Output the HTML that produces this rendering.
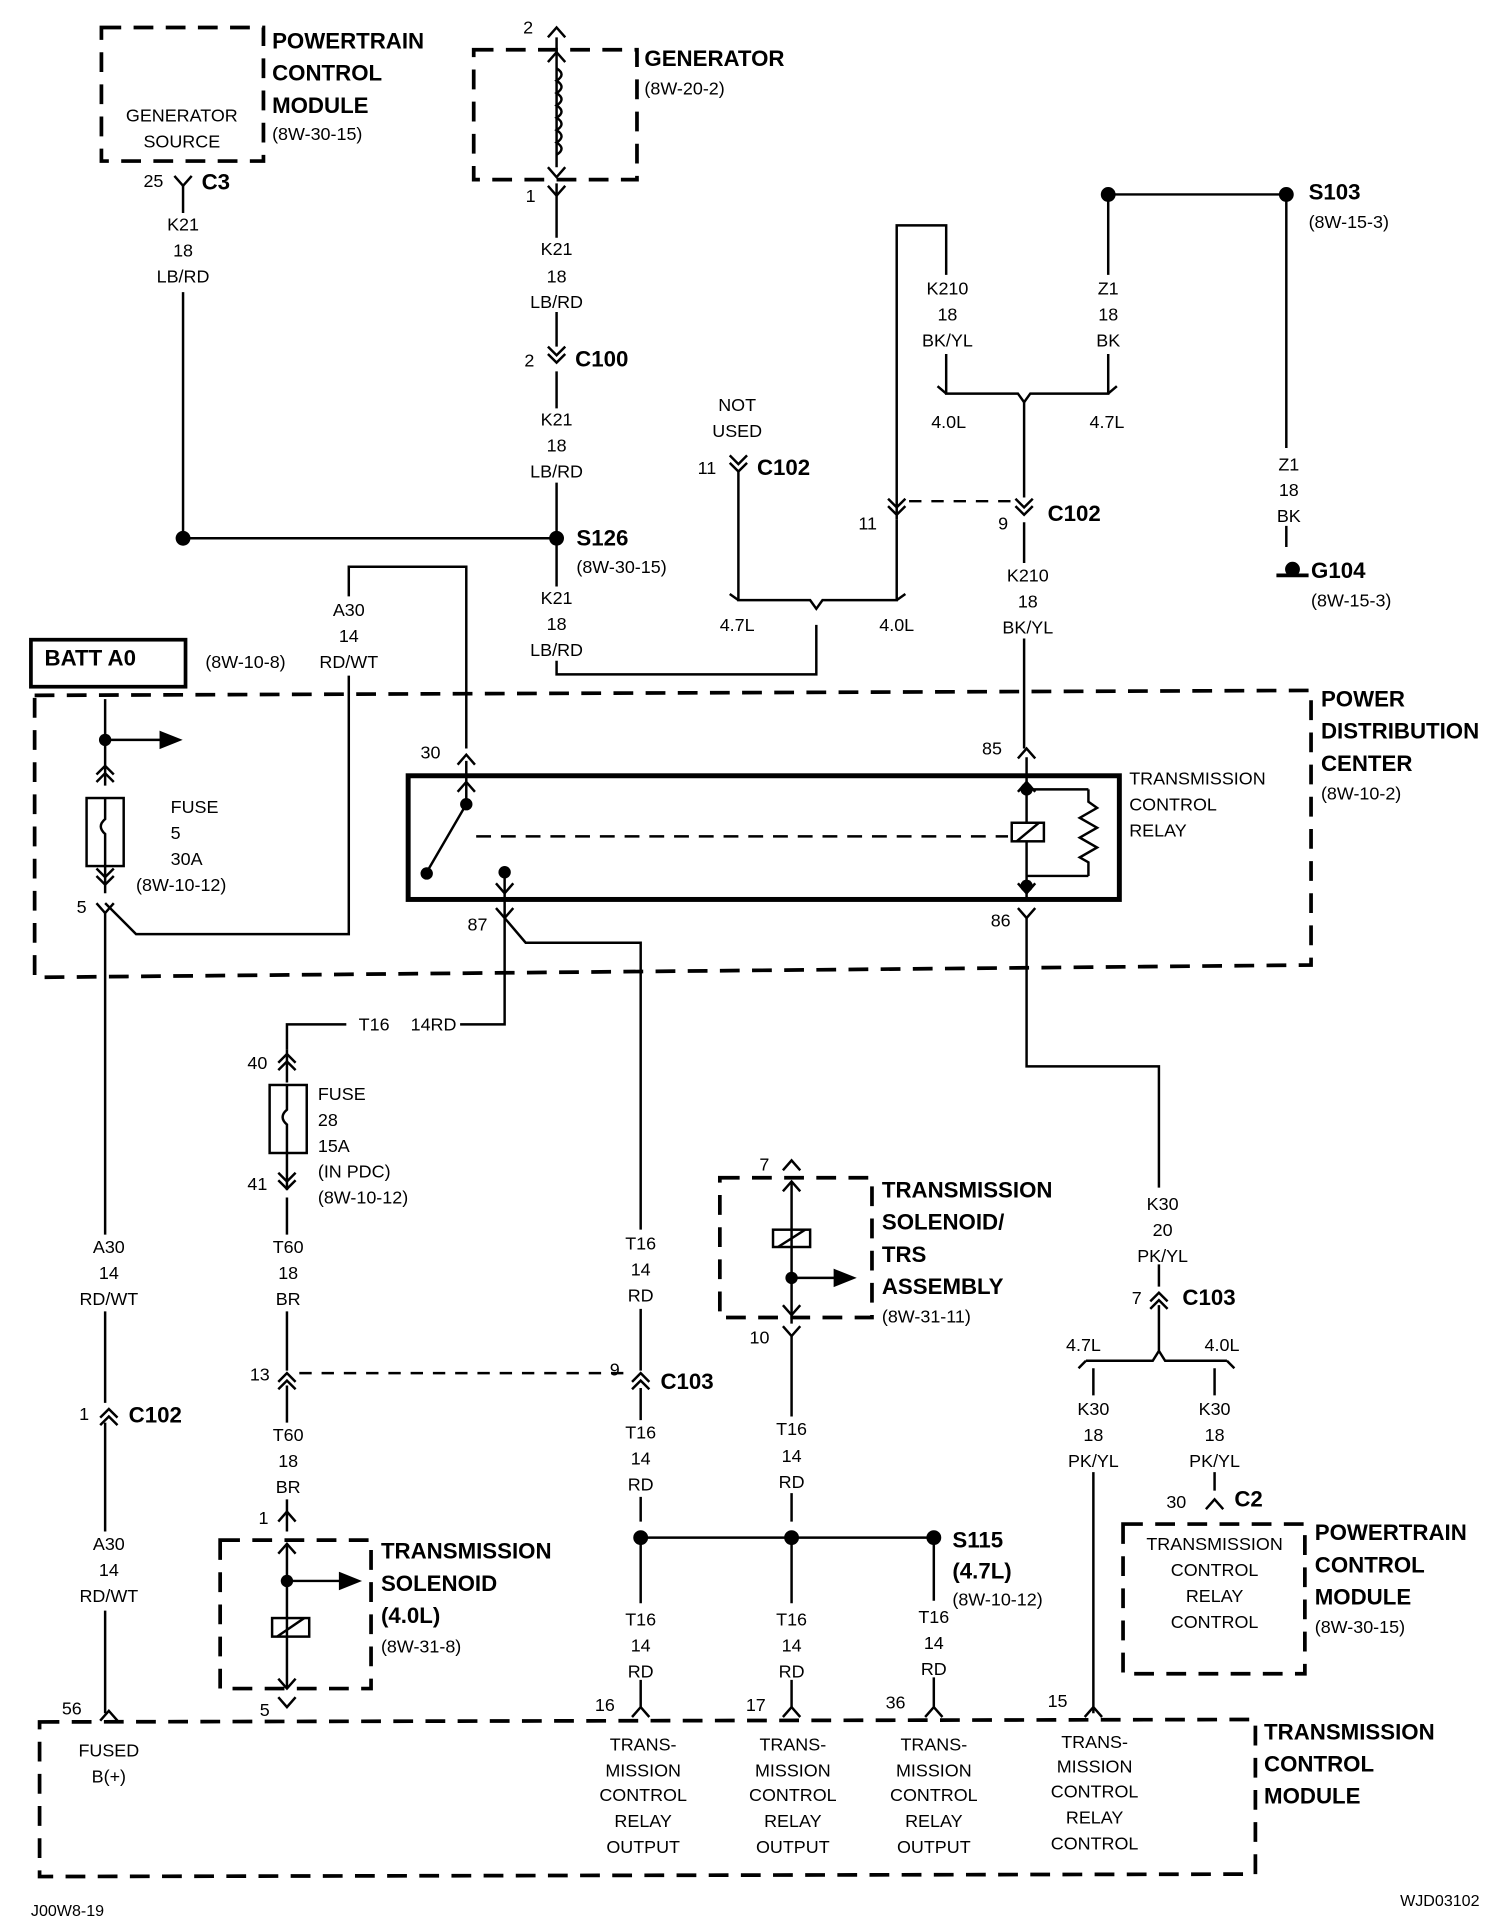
<!DOCTYPE html>
<html><head><meta charset="utf-8"><style>
html,body{margin:0;padding:0;background:#fff}
svg{display:block}
text{font-family:"Liberation Sans",sans-serif;fill:#000}
.n{font-size:14.5px;text-anchor:middle}
.l{font-size:14.5px}
.b{font-size:18px;font-weight:bold}
</style></head><body>
<svg width="1504" height="1930" viewBox="0 0 1216 1560" xmlns="http://www.w3.org/2000/svg">
<defs>
<path id="v" d="M-7,-8 L0,0 L7,-8" fill="none" stroke="#000" stroke-width="2"/>
<path id="u" d="M-7,8 L0,0 L7,8" fill="none" stroke="#000" stroke-width="2"/>
<path id="vv" d="M-7,-10 L0,-3 L7,-10 M-7,-4 L0,3 L7,-4" fill="none" stroke="#000" stroke-width="2"/>
<path id="uu" d="M-7,10 L0,3 L7,10 M-7,4 L0,-3 L7,4" fill="none" stroke="#000" stroke-width="2"/>
</defs>
<g stroke="#000" stroke-width="2" fill="none">
<g stroke-width="3" stroke-dasharray="16,10">
<rect x="82" y="22" width="131" height="108"/>
<rect x="383" y="40" width="132" height="105"/>
<path d="M28,562 L1060,558 L1060,780 L28,790 Z"/>
<rect x="178" y="1245" width="122" height="120"/>
<rect x="582" y="952" width="123" height="113"/>
<rect x="908" y="1232" width="147" height="121"/>
<path d="M32,1392 L1015,1390 L1015,1515 L32,1517 Z"/>
</g>
<rect x="25" y="517" width="125" height="38" stroke-width="3"/>
<rect x="330" y="627" width="575" height="100" stroke-width="4"/>
<path d="M148,150 V172 M148,236 V435 H450"/>
<use href="#v" x="148" y="150"/>
<path d="M450,30 V135 M450,148 V192 M450,252 V280 M450,300 V330 M450,390 V474 M450,534 V545 H660 V505"/>
<path d="M450,55 q8,5 0,10 q8,5 0,10 q8,5 0,10 q8,5 0,10 q8,5 0,10 q8,5 0,10 q8,5 0,10"/>
<use href="#u" x="450" y="22"/><use href="#u" x="450" y="42"/>
<use href="#v" x="450" y="143"/><use href="#v" x="450" y="158"/>
<use href="#vv" x="450" y="290"/>
<use href="#vv" x="597" y="378"/>
<path d="M597,380 V485 H655 L660,492 L665,485 H725 V420"/>
<path d="M590,480 L597,485 M732,480 L725,485"/>
<path d="M725,420 V182 H765 V222 M765,286 V318 H823 L828,325 L833,318 H896 V286 M896,222 V157 H1040 V362 M1040,425 V442"/>
<path d="M758,312 L765,318 M903,312 L896,318"/>
<use href="#vv" x="725" y="413"/>
<path d="M735,405 H818" stroke-dasharray="10,8"/>
<path d="M828,325 V402 M828,422 V455 M828,516 V605"/>
<use href="#vv" x="828" y="413"/>
<path d="M1032,465 H1058" stroke-width="3"/>
<path d="M377,605 V458 H282 V482 M282,546 V755 H110 L85,730"/>
<use href="#u" x="377" y="610"/>
<path d="M85,565 V635 M85,598 H130"/>
<path d="M130,592 L145,598 L130,604 Z" fill="#000"/>
<rect x="70" y="645" width="30" height="55"/>
<path d="M85,645 V662 q-7,6 0,12 V700"/>
<path d="M85,700 V722"/>
<use href="#uu" x="85" y="622"/><use href="#vv" x="85" y="712"/>
<use href="#v" x="85" y="738"/>
<path d="M85,738 V998 M85,1060 V1134 M85,1150 V1238 M85,1302 V1385"/>
<use href="#uu" x="88" y="1142"/>
<use href="#u" x="88" y="1383"/>
<path d="M377,615 V650 L345,705"/>
<path d="M385,676 H815" stroke-dasharray="12,8"/>
<path d="M408,705 V742 M408,742 L425,762 H518 V994 M518,1058 V1108 M518,1122 V1148 M518,1210 V1230"/>
<path d="M408,742 V828 H372 M280,828 H232 V848"/>
<path d="M830,612 V665 M830,680 V728 M830,638 H880 M830,708 H880"/>
<path d="M880,638 V648 l7,5 l-14,8 l14,8 l-14,8 l14,8 l-14,8 l7,4 V708"/>
<rect x="818" y="665" width="26" height="15"/>
<path d="M822,680 L840,665"/>
<use href="#u" x="830" y="632"/><use href="#v" x="830" y="722"/>
<use href="#u" x="377" y="632"/><use href="#v" x="408" y="722"/>
<use href="#v" x="408" y="742"/><use href="#v" x="830" y="742"/>
<use href="#u" x="830" y="605"/>
<path d="M830,742 V862 H937 V960 M937,1022 V1040 M937,1055 V1092 L932,1100 H878 M937,1092 L942,1100 H992"/>
<path d="M872,1106 L878,1100 M998,1106 L992,1100"/>
<path d="M884,1106 V1128 M884,1190 V1385 M982,1106 V1128 M982,1190 V1205"/>
<use href="#uu" x="937" y="1048"/>
<use href="#u" x="982" y="1212"/>
<path d="M232,848 V875 M232,932 V962 M232,968 V998 M232,1060 V1108 M232,1120 V1150 M232,1212 V1238 M232,1248 V1365 M232,1278 H275"/>
<path d="M275,1272 L290,1278 L275,1284 Z" fill="#000"/>
<use href="#uu" x="232" y="855"/>
<rect x="218" y="877" width="30" height="55"/>
<path d="M232,877 V897 q-7,6 0,12 V932"/>
<use href="#vv" x="232" y="958"/>
<use href="#uu" x="232" y="1113"/><use href="#uu" x="518" y="1113"/>
<path d="M242,1110 H508" stroke-dasharray="10,8"/>
<use href="#u" x="232" y="1222"/><use href="#u" x="232" y="1248"/>
<use href="#v" x="232" y="1365"/><use href="#v" x="232" y="1380"/>
<rect x="220" y="1308" width="30" height="15"/>
<path d="M224,1323 L246,1308"/>
<use href="#u" x="640" y="938"/><use href="#u" x="640" y="955"/>
<path d="M640,955 V1070 M640,1033 H675"/>
<path d="M675,1027 L690,1033 L675,1039 Z" fill="#000"/>
<rect x="625" y="994" width="30" height="14"/>
<path d="M629,1008 L651,994"/>
<use href="#v" x="640" y="1063"/><use href="#v" x="640" y="1080"/>
<path d="M640,1080 V1145 M640,1207 V1230"/>
<path d="M518,1243 H755 M518,1243 V1296 M518,1358 V1380 M640,1243 V1296 M640,1358 V1380 M755,1243 V1294 M755,1356 V1380"/>
<use href="#u" x="518" y="1380"/><use href="#u" x="640" y="1380"/><use href="#u" x="755" y="1380"/><use href="#u" x="884" y="1380"/>
</g>
<g fill="#000">
<circle cx="148" cy="435" r="6"/><circle cx="450" cy="435" r="6"/>
<circle cx="896" cy="157" r="6"/><circle cx="1040" cy="157" r="6"/>
<circle cx="1045" cy="460" r="6"/>
<circle cx="85" cy="598" r="5"/>
<circle cx="377" cy="650" r="5"/><circle cx="345" cy="706" r="5"/><circle cx="408" cy="705" r="5"/>
<circle cx="830" cy="638" r="5"/><circle cx="830" cy="716" r="5"/>
<circle cx="232" cy="1278" r="5"/><circle cx="640" cy="1033" r="5"/>
<circle cx="518" cy="1243" r="6"/><circle cx="640" cy="1243" r="6"/><circle cx="755" cy="1243" r="6"/>
</g>
<text class="b" x="220" y="39">POWERTRAIN</text><text class="b" x="220" y="65">CONTROL</text><text class="b" x="220" y="91">MODULE</text><text class="l" x="220" y="113">(8W-30-15)</text>
<text class="n" x="147" y="98">GENERATOR</text><text class="n" x="147" y="119">SOURCE</text>
<text class="l" x="116" y="151">25</text><text class="b" x="163" y="153">C3</text>
<text class="n" x="148" y="186">K21</text><text class="n" x="148" y="207">18</text><text class="n" x="148" y="228">LB/RD</text>
<text class="l" x="423" y="27">2</text><text class="l" x="425" y="163">1</text>
<text class="b" x="521" y="53">GENERATOR</text><text class="l" x="521" y="76">(8W-20-2)</text>
<text class="n" x="450" y="206">K21</text><text class="n" x="450" y="228">18</text><text class="n" x="450" y="249">LB/RD</text>
<text class="l" x="424" y="296">2</text><text class="b" x="465" y="296">C100</text>
<text class="n" x="450" y="344">K21</text><text class="n" x="450" y="365">18</text><text class="n" x="450" y="386">LB/RD</text>
<text class="b" x="466" y="441">S126</text><text class="l" x="466" y="463">(8W-30-15)</text>
<text class="n" x="450" y="488">K21</text><text class="n" x="450" y="509">18</text><text class="n" x="450" y="530">LB/RD</text>
<text class="n" x="596" y="332">NOT</text><text class="n" x="596" y="353">USED</text>
<text class="l" x="564" y="383">11</text><text class="b" x="612" y="384">C102</text>
<text class="n" x="596" y="510">4.7L</text><text class="n" x="725" y="510">4.0L</text>
<text class="n" x="766" y="238">K210</text><text class="n" x="766" y="259">18</text><text class="n" x="766" y="280">BK/YL</text>
<text class="n" x="896" y="238">Z1</text><text class="n" x="896" y="259">18</text><text class="n" x="896" y="280">BK</text>
<text class="n" x="767" y="346">4.0L</text><text class="n" x="895" y="346">4.7L</text>
<text class="b" x="1058" y="161">S103</text><text class="l" x="1058" y="184">(8W-15-3)</text>
<text class="n" x="1042" y="380">Z1</text><text class="n" x="1042" y="401">18</text><text class="n" x="1042" y="422">BK</text>
<text class="b" x="1060" y="467">G104</text><text class="l" x="1060" y="490">(8W-15-3)</text>
<text class="l" x="694" y="428">11</text><text class="l" x="807" y="428">9</text><text class="b" x="847" y="421">C102</text>
<text class="n" x="831" y="470">K210</text><text class="n" x="831" y="491">18</text><text class="n" x="831" y="512">BK/YL</text>
<text class="n" x="282" y="498">A30</text><text class="n" x="282" y="519">14</text><text class="n" x="282" y="540">RD/WT</text>
<text class="b" x="36" y="538">BATT A0</text><text class="l" x="166" y="540">(8W-10-8)</text>
<text class="b" x="1068" y="571">POWER</text><text class="b" x="1068" y="597">DISTRIBUTION</text><text class="b" x="1068" y="623">CENTER</text><text class="l" x="1068" y="646">(8W-10-2)</text>
<text class="l" x="138" y="657">FUSE</text><text class="l" x="138" y="678">5</text><text class="l" x="138" y="699">30A</text><text class="l" x="110" y="720">(8W-10-12)</text>
<text class="l" x="62" y="738">5</text>
<text class="l" x="340" y="613">30</text><text class="l" x="794" y="610">85</text>
<text class="l" x="913" y="634">TRANSMISSION</text><text class="l" x="913" y="655">CONTROL</text><text class="l" x="913" y="676">RELAY</text>
<text class="l" x="378" y="752">87</text><text class="l" x="801" y="749">86</text>
<text class="l" x="290" y="833">T16</text><text class="l" x="332" y="833">14RD</text>
<text class="l" x="200" y="864">40</text>
<text class="l" x="257" y="889">FUSE</text><text class="l" x="257" y="910">28</text><text class="l" x="257" y="931">15A</text><text class="l" x="257" y="952">(IN PDC)</text><text class="l" x="257" y="973">(8W-10-12)</text>
<text class="l" x="200" y="962">41</text>
<text class="n" x="233" y="1013">T60</text><text class="n" x="233" y="1034">18</text><text class="n" x="233" y="1055">BR</text>
<text class="n" x="518" y="1010">T16</text><text class="n" x="518" y="1031">14</text><text class="n" x="518" y="1052">RD</text>
<text class="n" x="88" y="1013">A30</text><text class="n" x="88" y="1034">14</text><text class="n" x="88" y="1055">RD/WT</text>
<text class="l" x="202" y="1116">13</text><text class="l" x="493" y="1112">9</text><text class="b" x="534" y="1123">C103</text>
<text class="l" x="64" y="1148">1</text><text class="b" x="104" y="1150">C102</text>
<text class="n" x="233" y="1165">T60</text><text class="n" x="233" y="1186">18</text><text class="n" x="233" y="1207">BR</text>
<text class="n" x="518" y="1163">T16</text><text class="n" x="518" y="1184">14</text><text class="n" x="518" y="1205">RD</text>
<text class="n" x="640" y="1160">T16</text><text class="n" x="640" y="1182">14</text><text class="n" x="640" y="1203">RD</text>
<text class="l" x="209" y="1232">1</text><text class="l" x="210" y="1387">5</text>
<text class="b" x="308" y="1260">TRANSMISSION</text><text class="b" x="308" y="1286">SOLENOID</text><text class="b" x="308" y="1312">(4.0L)</text><text class="l" x="308" y="1336">(8W-31-8)</text>
<text class="n" x="88" y="1253">A30</text><text class="n" x="88" y="1274">14</text><text class="n" x="88" y="1295">RD/WT</text>
<text class="l" x="614" y="946">7</text><text class="l" x="606" y="1086">10</text>
<text class="b" x="713" y="968">TRANSMISSION</text><text class="b" x="713" y="994">SOLENOID/</text><text class="b" x="713" y="1020">TRS</text><text class="b" x="713" y="1046">ASSEMBLY</text><text class="l" x="713" y="1069">(8W-31-11)</text>
<text class="n" x="940" y="978">K30</text><text class="n" x="940" y="999">20</text><text class="n" x="940" y="1020">PK/YL</text>
<text class="l" x="915" y="1054">7</text><text class="b" x="956" y="1055">C103</text>
<text class="n" x="876" y="1092">4.7L</text><text class="n" x="988" y="1092">4.0L</text>
<text class="n" x="884" y="1144">K30</text><text class="n" x="884" y="1165">18</text><text class="n" x="884" y="1186">PK/YL</text>
<text class="n" x="982" y="1144">K30</text><text class="n" x="982" y="1165">18</text><text class="n" x="982" y="1186">PK/YL</text>
<text class="l" x="943" y="1219">30</text><text class="b" x="998" y="1218">C2</text>
<text class="n" x="982" y="1253">TRANSMISSION</text><text class="n" x="982" y="1274">CONTROL</text><text class="n" x="982" y="1295">RELAY</text><text class="n" x="982" y="1316">CONTROL</text>
<text class="b" x="1063" y="1245">POWERTRAIN</text><text class="b" x="1063" y="1271">CONTROL</text><text class="b" x="1063" y="1297">MODULE</text><text class="l" x="1063" y="1320">(8W-30-15)</text>
<text class="b" x="770" y="1251">S115</text><text class="b" x="770" y="1276">(4.7L)</text><text class="l" x="770" y="1298">(8W-10-12)</text>
<text class="n" x="518" y="1314">T16</text><text class="n" x="518" y="1335">14</text><text class="n" x="518" y="1356">RD</text>
<text class="n" x="640" y="1314">T16</text><text class="n" x="640" y="1335">14</text><text class="n" x="640" y="1356">RD</text>
<text class="n" x="755" y="1312">T16</text><text class="n" x="755" y="1333">14</text><text class="n" x="755" y="1354">RD</text>
<text class="l" x="50" y="1386">56</text><text class="l" x="481" y="1383">16</text><text class="l" x="603" y="1383">17</text><text class="l" x="716" y="1381">36</text><text class="l" x="847" y="1380">15</text>
<text class="n" x="88" y="1420">FUSED</text><text class="n" x="88" y="1441">B(+)</text>
<text class="n" x="520" y="1415">TRANS-</text><text class="n" x="520" y="1436">MISSION</text><text class="n" x="520" y="1456">CONTROL</text><text class="n" x="520" y="1477">RELAY</text><text class="n" x="520" y="1498">OUTPUT</text>
<text class="n" x="641" y="1415">TRANS-</text><text class="n" x="641" y="1436">MISSION</text><text class="n" x="641" y="1456">CONTROL</text><text class="n" x="641" y="1477">RELAY</text><text class="n" x="641" y="1498">OUTPUT</text>
<text class="n" x="755" y="1415">TRANS-</text><text class="n" x="755" y="1436">MISSION</text><text class="n" x="755" y="1456">CONTROL</text><text class="n" x="755" y="1477">RELAY</text><text class="n" x="755" y="1498">OUTPUT</text>
<text class="n" x="885" y="1413">TRANS-</text><text class="n" x="885" y="1433">MISSION</text><text class="n" x="885" y="1453">CONTROL</text><text class="n" x="885" y="1474">RELAY</text><text class="n" x="885" y="1495">CONTROL</text>
<text class="b" x="1022" y="1406">TRANSMISSION</text><text class="b" x="1022" y="1432">CONTROL</text><text class="b" x="1022" y="1458">MODULE</text>
<text class="l" x="25" y="1549" style="font-size:13px">J00W8-19</text><text class="l" x="1132" y="1541" style="font-size:13px">WJD03102</text>
</svg>
</body></html>
